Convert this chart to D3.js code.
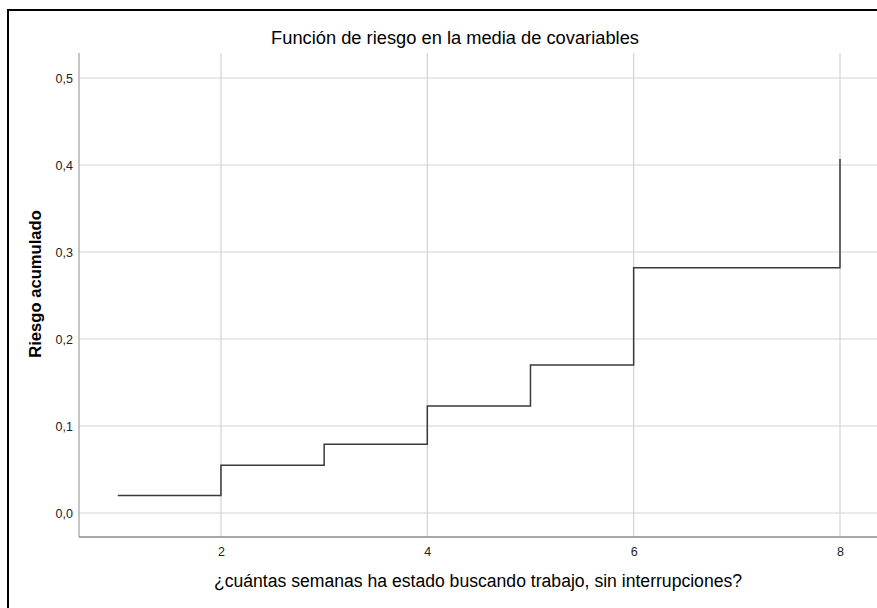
<!DOCTYPE html>
<html><head><meta charset="utf-8">
<script src="https://cdn.jsdelivr.net/npm/d3@7/dist/d3.min.js"></script>
<style>body{margin:0;background:#fff;overflow:hidden}</style>
</head><body><svg id="c" width="877" height="608"></svg>
<script>
const times = [1, 2, 3, 4, 5, 6, 8];
const hazard = [0.020, 0.055, 0.079, 0.123, 0.170, 0.282, 0.407];
const xTicks = [2, 4, 6, 8];
const yTicks = [0, 0.1, 0.2, 0.3, 0.4, 0.5];
const title = "Función de riesgo en la media de covariables";
const xTitle = "¿cuántas semanas ha estado buscando trabajo, sin interrupciones?";
const yTitle = "Riesgo acumulado";

const svg = d3.select("#c");
const L = 79, T = 53, B = 537, R = 895;
const x = d3.scaleLinear().domain([0.624, 8]).range([L, 840]);
const y = d3.scaleLinear().domain([0, 0.5]).range([513, 78]);
const FONT = "Liberation Sans, Arial, sans-serif";

// outer frame
svg.append("rect").attr("x", 8).attr("y", 10).attr("width", 900).attr("height", 620)
  .attr("fill", "none").attr("stroke", "#000").attr("stroke-width", 2);

// grid
svg.append("g").selectAll("line").data(yTicks).join("line")
  .attr("x1", L).attr("x2", R).attr("y1", d => y(d)).attr("y2", d => y(d))
  .attr("stroke", "#d4d4d4").attr("stroke-width", 1.2);
svg.append("g").selectAll("line").data(xTicks).join("line")
  .attr("x1", d => x(d)).attr("x2", d => x(d)).attr("y1", T).attr("y2", B)
  .attr("stroke", "#d4d4d4").attr("stroke-width", 1.2);

// axes
const yAxis = d3.axisLeft(y).tickValues(yTicks).tickSize(0).tickPadding(6)
  .tickFormat(d => d3.format(".1f")(d).replace(".", ","));
const gy = svg.append("g").attr("transform", `translate(${L},0)`).call(yAxis);
gy.select(".domain").remove();
gy.selectAll("text").attr("font-family", FONT).attr("font-size", 12.5).attr("fill", "#222");
svg.append("line").attr("x1", L).attr("x2", L).attr("y1", T).attr("y2", B)
  .attr("stroke", "#a8a8a8").attr("stroke-width", 1.3);

const xAxis = d3.axisBottom(x).tickValues(xTicks).tickSize(0).tickPadding(10);
const gx = svg.append("g").attr("transform", `translate(0,${B})`).call(xAxis);
gx.select(".domain").remove();
gx.selectAll("text").attr("font-family", FONT).attr("font-size", 12.5).attr("fill", "#222");
svg.append("line").attr("x1", L).attr("x2", R).attr("y1", B).attr("y2", B)
  .attr("stroke", "#8c8c8c").attr("stroke-width", 1.3);

// step line (cumulative hazard: jumps at each event time)
const path = [[times[0], hazard[0]]];
for (let i = 1; i < times.length; i++) { path.push([times[i], hazard[i - 1]]); path.push([times[i], hazard[i]]); }
svg.append("path").attr("d", d3.line().x(d => x(d[0])).y(d => y(d[1]))(path))
  .attr("fill", "none").attr("stroke", "#3a3a3a").attr("stroke-width", 1.5);

// titles
svg.append("text").attr("x", 455).attr("y", 44).attr("text-anchor", "middle")
  .attr("font-family", FONT).attr("font-size", 18.3).attr("fill", "#000").text(title);
svg.append("text").attr("x", 478).attr("y", 587).attr("text-anchor", "middle")
  .attr("font-family", FONT).attr("font-size", 17.6).attr("fill", "#000").text(xTitle);
svg.append("text").attr("transform", "translate(41,284) rotate(-90)").attr("text-anchor", "middle")
  .attr("font-family", FONT).attr("font-weight", "bold")
  .attr("font-size", 16.6).attr("fill", "#000").text(yTitle);
</script></body></html>
